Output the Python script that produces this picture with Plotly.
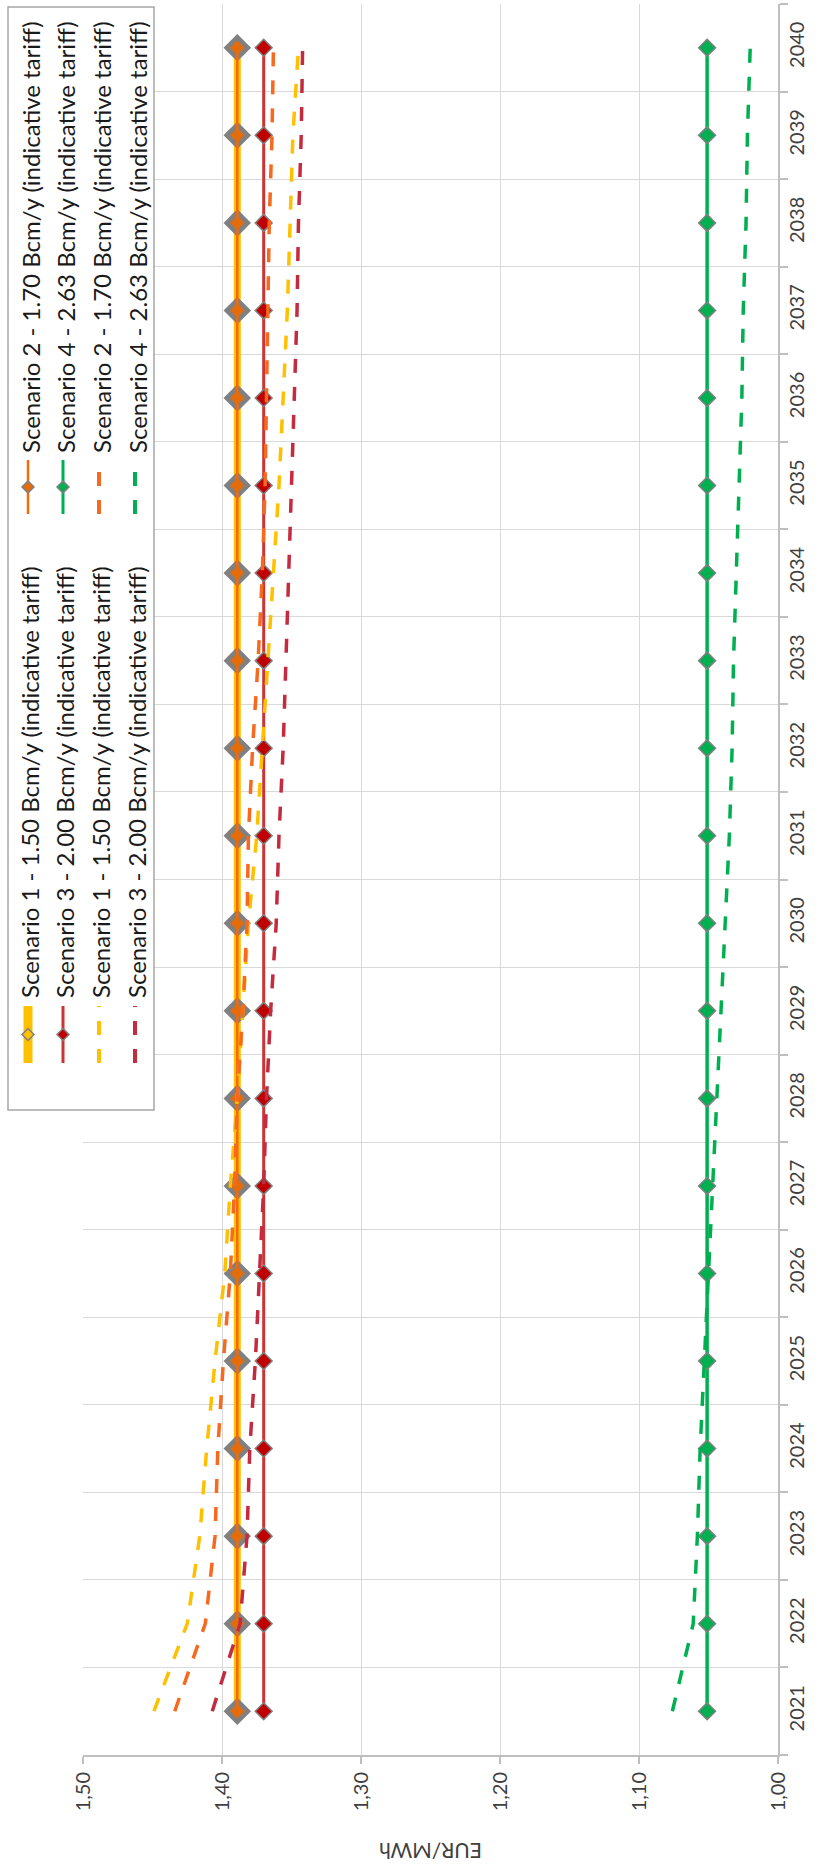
import plotly.graph_objects as go

# ---------------- data ----------------
years = ["2021", "2022", "2023", "2024", "2025", "2026", "2027", "2028", "2029", "2030",
         "2031", "2032", "2033", "2034", "2035", "2036", "2037", "2038", "2039", "2040"]

s1_tariff = [1.389, 1.389, 1.389, 1.389, 1.389, 1.389, 1.389, 1.389, 1.389, 1.389,
             1.389, 1.389, 1.389, 1.389, 1.389, 1.389, 1.389, 1.389, 1.389, 1.389]
s2_tariff = [1.389, 1.389, 1.389, 1.389, 1.389, 1.389, 1.389, 1.389, 1.389, 1.389,
             1.389, 1.389, 1.389, 1.389, 1.389, 1.389, 1.389, 1.389, 1.389, 1.389]
s3_tariff = [1.370, 1.370, 1.370, 1.370, 1.370, 1.370, 1.370, 1.370, 1.370, 1.370,
             1.370, 1.370, 1.370, 1.370, 1.370, 1.370, 1.370, 1.370, 1.370, 1.370]
s4_tariff = [1.051, 1.051, 1.051, 1.051, 1.051, 1.051, 1.051, 1.051, 1.051, 1.051,
             1.051, 1.051, 1.051, 1.051, 1.051, 1.051, 1.051, 1.051, 1.051, 1.051]

s1_indicative = [1.449, 1.425, 1.416, 1.411, 1.405, 1.398, 1.394, 1.389, 1.385, 1.381,
                 1.375, 1.371, 1.367, 1.363, 1.359, 1.356, 1.353, 1.351, 1.349, 1.345]
s2_indicative = [1.434, 1.412, 1.405, 1.403, 1.399, 1.394, 1.391, 1.389, 1.385, 1.382,
                 1.381, 1.378, 1.374, 1.371, 1.369, 1.368, 1.367, 1.366, 1.364, 1.363]
s3_indicative = [1.407, 1.387, 1.382, 1.380, 1.376, 1.373, 1.370, 1.368, 1.365, 1.361,
                 1.359, 1.356, 1.354, 1.352, 1.350, 1.348, 1.346, 1.345, 1.343, 1.342]
s4_indicative = [1.076, 1.061, 1.058, 1.056, 1.053, 1.050, 1.047, 1.044, 1.041, 1.038,
                 1.035, 1.033, 1.032, 1.030, 1.028, 1.026, 1.025, 1.023, 1.022, 1.020]

series_names = [
    "Scenario 1 - 1.50 Bcm/y (indicative tariff)",
    "Scenario 2 - 1.70 Bcm/y (indicative tariff)",
    "Scenario 3 - 2.00 Bcm/y (indicative tariff)",
    "Scenario 4 - 2.63 Bcm/y (indicative tariff)",
]

value_ticks = [1.50, 1.40, 1.30, 1.20, 1.10, 1.00]
value_tick_labels = ["1,50", "1,40", "1,30", "1,20", "1,10", "1,00"]
value_axis_title = "EUR/MWh"

# ---------------- styling ----------------
W, H = 823, 1869
ML, MR, MT, MB = 83, 45, 4, 114
PW = W - ML - MR
PH = H - MT - MB

YELLOW = "#FFC000"
ORANGE = "#F56A0A"
ORANGE_FILL = "#E46C0A"
RED = "#CC3333"
RED_FILL = "#C00000"
GREEN = "#00B050"
GRAY = "#808080"
D_YELLOW = "#FFC000"
D_ORANGE = "#F7691F"
D_RED = "#C42B3F"
D_GREEN = "#00B050"
FONT = "Lato, 'Open Sans', sans-serif"
DASH = "14px,14px"


def pxx(x):
    return (x - ML) / PW


def pxy(y):
    return (H - MB - y) / PH


fig = go.Figure()

# solid series
fig.add_trace(go.Scatter(x=s1_tariff, y=years, name=series_names[0], mode="lines+markers",
                         line=dict(color=YELLOW, width=7),
                         marker=dict(symbol="diamond", size=19, color=GRAY,
                                     line=dict(color=GRAY, width=2))))
fig.add_trace(go.Scatter(x=s2_tariff, y=years, name=series_names[1], mode="lines+markers",
                         line=dict(color=ORANGE, width=2.5),
                         marker=dict(symbol="diamond", size=11, color=ORANGE_FILL,
                                     line=dict(color=GRAY, width=0))))
fig.add_trace(go.Scatter(x=s3_tariff, y=years, name=series_names[2], mode="lines+markers",
                         line=dict(color=RED, width=3),
                         marker=dict(symbol="diamond", size=13, color=RED_FILL,
                                     line=dict(color=GRAY, width=1.5))))
fig.add_trace(go.Scatter(x=s4_tariff, y=years, name=series_names[3], mode="lines+markers",
                         line=dict(color=GREEN, width=3.5),
                         marker=dict(symbol="diamond", size=13, color=GREEN,
                                     line=dict(color=GRAY, width=1.5))))

# dashed (indicative) series
for vals, col, nm in [(s1_indicative, D_YELLOW, series_names[0]),
                      (s2_indicative, D_ORANGE, series_names[1]),
                      (s3_indicative, D_RED, series_names[2]),
                      (s4_indicative, D_GREEN, series_names[3])]:
    fig.add_trace(go.Scatter(x=vals, y=years, name=nm, mode="lines",
                             line=dict(color=col, width=3.5, dash=DASH)))

shapes = []
annotations = []

# legend box (rotated legend, drawn by hand)
shapes.append(dict(type="rect", xref="paper", yref="paper",
                   x0=pxx(8), x1=pxx(154), y0=pxy(7), y1=pxy(1110),
                   fillcolor="white", line=dict(color="#A6A6A6", width=1.5), layer="above"))


def diamond(cx, cy, r, fill, edge, ew):
    pts = [(cx, cy - r), (cx + r, cy), (cx, cy + r), (cx - r, cy)]
    path = "M " + " L ".join(f"{pxx(a):.5f},{pxy(b):.5f}" for a, b in pts) + " Z"
    return dict(type="path", xref="paper", yref="paper", path=path,
                fillcolor=fill, line=dict(color=edge, width=ew), layer="above")


legend_entries = [
    (0, 28, "A", dict(color=YELLOW, width=9, dash="solid", mfill=YELLOW, medge=GRAY)),
    (1, 28, "B", dict(color=ORANGE, width=2.5, dash="solid", mfill=ORANGE_FILL, medge=GRAY)),
    (2, 63, "A", dict(color=RED, width=3, dash="solid", mfill=RED_FILL, medge=GRAY)),
    (3, 63, "B", dict(color=GREEN, width=3, dash="solid", mfill=GREEN, medge=GRAY)),
    (0, 99, "A", dict(color=D_YELLOW, width=4, dash=DASH, mfill=None, medge=None)),
    (1, 99, "B", dict(color=D_ORANGE, width=4, dash=DASH, mfill=None, medge=None)),
    (2, 135, "A", dict(color=D_RED, width=4, dash=DASH, mfill=None, medge=None)),
    (3, 135, "B", dict(color=D_GREEN, width=4, dash=DASH, mfill=None, medge=None)),
]
groups = {"A": dict(y_bot=1063, y_top=1006, text_start=1000),
          "B": dict(y_bot=514, y_top=460, text_start=455)}

for idx, cx, g, st in legend_entries:
    gg = groups[g]
    shapes.append(dict(type="line", xref="paper", yref="paper",
                       x0=pxx(cx), x1=pxx(cx), y0=pxy(gg["y_bot"]), y1=pxy(gg["y_top"]),
                       line=dict(color=st["color"], width=st["width"], dash=st["dash"]),
                       layer="above"))
    if st["mfill"]:
        cy = (gg["y_bot"] + gg["y_top"]) / 2
        shapes.append(diamond(cx, cy, 6, st["mfill"], st["medge"], 1.5))
    annotations.append(dict(text=series_names[idx], xref="paper", yref="paper",
                            x=pxx(cx + 2), y=pxy(gg["text_start"]), xanchor="center",
                            yanchor="bottom", textangle=-90, showarrow=False,
                            font=dict(family=FONT, size=24, color="#1A1A1A")))

# value axis title (upside down, as in the rotated chart)
annotations.append(dict(text=value_axis_title, xref="paper", yref="paper",
                        x=0.5, y=pxy(1852), xanchor="center", yanchor="middle",
                        textangle=180, showarrow=False,
                        font=dict(family=FONT, size=21, color="#404040")))

fig.update_layout(
    width=W, height=H,
    margin=dict(l=ML, r=MR, t=MT, b=MB, pad=0),
    paper_bgcolor="white", plot_bgcolor="white",
    showlegend=False,
    shapes=shapes, annotations=annotations,
    font=dict(family=FONT, size=20, color="#404040"),
)

fig.update_xaxes(
    range=[1.5, 1.0], tickmode="array", tickvals=value_ticks, ticktext=value_tick_labels,
    tickangle=-90, showgrid=True, gridcolor="#D9D9D9", gridwidth=1,
    ticks="outside", ticklen=7, tickcolor="#BFBFBF", tickwidth=1.5,
    showline=True, linecolor="#BFBFBF", linewidth=2, zeroline=False,
    tickfont=dict(family=FONT, size=20, color="#404040"),
)
fig.update_yaxes(
    type="category", categoryorder="array", categoryarray=years, range=[-0.5, 19.5],
    side="right", tickson="boundaries", tickangle=-90,
    showgrid=True, gridcolor="#D9D9D9", gridwidth=1,
    ticks="outside", ticklen=8, tickcolor="#BFBFBF", tickwidth=1.5,
    showline=True, linecolor="#BFBFBF", linewidth=2, zeroline=False,
    tickfont=dict(family=FONT, size=20, color="#404040"),
)

fig.write_html("out.html", config={"displayModeBar": False},
               post_script="document.body.style.margin='0';")
